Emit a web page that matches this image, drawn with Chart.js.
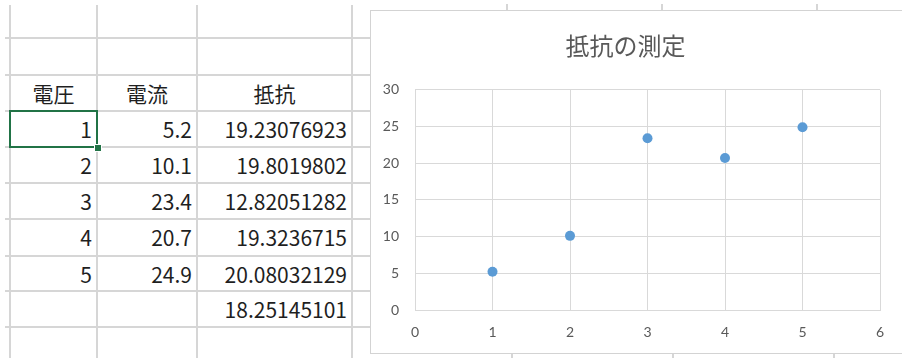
<!DOCTYPE html>
<html lang="ja">
<head>
<meta charset="utf-8">
<title>抵抗の測定</title>
<script src="https://cdn.jsdelivr.net/npm/chart.js@4.4.1/dist/chart.umd.min.js"></script>
<style>
  html, body { margin: 0; padding: 0; background: #fff; }
  body { width: 902px; height: 358px; overflow: hidden; position: relative; }
  .hl, .vl { position: absolute; background: #d6d6d6; }
  .hl { height: 2px; }
  .vl { width: 2px; }
  .cell {
    position: absolute; height: 36px; line-height: 36px;
    font-family: "Noto Sans CJK JP", "Noto Sans", sans-serif;
    font-size: 21px; color: #1f1f1f; white-space: nowrap;
  }
  .sel { position: absolute; left: 9px; top: 110px; width: 85px; height: 34px; border: 2px solid #217346; }
  .handle { position: absolute; left: 94px; top: 144px; width: 6px; height: 6px; background: #217346; border: 1px solid #fff; }
  #chartBox {
    position: absolute; left: 370px; top: 10px; width: 560px; height: 342px;
    border: 1px solid #d3d3d3; background: #fff;
  }
  #chartBox canvas { position: absolute; left: 0; top: 0; }
</style>
</head>
<body>
<div id="sheet"></div>
<div class="sel"></div><div class="handle"></div>
<div id="chartBox"><canvas id="chart" width="516" height="342"></canvas></div>

<script>
// measurement table
const voltage = [1, 2, 3, 4, 5];
const current = [5.2, 10.1, 23.4, 20.7, 24.9];
const resistance = ["19.23076923", "19.8019802", "12.82051282", "19.3236715", "20.08032129"];
const resistanceMean = "18.25145101";
const headers = ["電圧", "電流", "抵抗"];

// chart axes
const xTicks = [0, 1, 2, 3, 4, 5, 6];
const yTicks = [0, 5, 10, 15, 20, 25, 30];
const chartTitle = "抵抗の測定";

// ---- worksheet grid ----
const sheet = document.getElementById("sheet");
const colEdges = [10, 97, 197, 352];
const rowEdges = [38, 75, 111, 147, 183, 219, 256, 291, 327];

function line(cls, style) {
  const d = document.createElement("div");
  d.className = cls;
  Object.assign(d.style, style);
  sheet.appendChild(d);
}
rowEdges.forEach(y => line("hl", { left: "5px", top: (y - 1) + "px", width: "370px" }));
colEdges.forEach(x => line("vl", { left: (x - 1) + "px", top: "5px", height: "360px" }));
// column borders peeking out above and below the chart object
[507, 662, 817].forEach(x => line("vl", { left: (x - 1) + "px", top: "4px", height: "8px" }));
[512, 673, 834].forEach(x => line("vl", { left: (x - 1) + "px", top: "352px", height: "10px" }));

function cell(text, col, row, align) {
  const d = document.createElement("div");
  d.className = "cell";
  d.textContent = text;
  const left = colEdges[col], right = colEdges[col + 1];
  d.style.top = rowEdges[row] + "px";
  if (align === "center") {
    d.style.left = left + "px";
    d.style.width = (right - left) + "px";
    d.style.textAlign = "center";
  } else {
    d.style.right = (902 - right + 5) + "px";
    d.style.textAlign = "right";
  }
  sheet.appendChild(d);
}
headers.forEach((h, i) => cell(h, i, 1, "center"));
voltage.forEach((v, i) => {
  cell(String(v), 0, i + 2, "right");
  cell(String(current[i]), 1, i + 2, "right");
  cell(resistance[i], 2, i + 2, "right");
});
cell(resistanceMean, 2, 7, "right");

// ---- scatter chart ----
const gridColor = "#d9d9d9";
const tickFont = { family: "Lato, 'Open Sans', sans-serif", size: 14 };

new Chart(document.getElementById("chart"), {
  type: "scatter",
  data: {
    datasets: [{
      data: voltage.map((v, i) => ({ x: v, y: current[i] })),
      pointRadius: 5,
      pointHoverRadius: 5,
      pointBorderWidth: 0,
      pointBackgroundColor: "#5B9BD5",
      pointBorderColor: "#5B9BD5"
    }]
  },
  options: {
    responsive: false,
    animation: false,
    events: [],
    layout: { padding: { left: 0, right: 7, top: 0, bottom: 0 } },
    plugins: {
      legend: { display: false },
      tooltip: { enabled: false },
      title: {
        display: true,
        text: chartTitle,
        color: "#595959",
        font: { family: "'Noto Sans CJK JP', sans-serif", size: 24, weight: "normal", lineHeight: 1.2 },
        padding: { top: 20, bottom: 30 }
      }
    },
    scales: {
      x: {
        type: "linear",
        min: xTicks[0],
        max: xTicks[xTicks.length - 1],
        afterBuildTicks: s => { s.ticks = xTicks.map(v => ({ value: v })); },
        afterFit: s => { s.height = 43; s.paddingLeft = 0; s.paddingRight = 0; },
        grid: { color: gridColor, drawTicks: false },
        border: { color: gridColor },
        ticks: { color: "#595959", font: tickFont, padding: 14, maxRotation: 0 }
      },
      y: {
        type: "linear",
        min: yTicks[0],
        max: yTicks[yTicks.length - 1],
        afterBuildTicks: s => { s.ticks = yTicks.map(v => ({ value: v })); },
        afterFit: s => { s.width = 44; },
        grid: { color: gridColor, drawTicks: false },
        border: { color: gridColor },
        ticks: { color: "#595959", font: tickFont, padding: 16 }
      }
    }
  }
});
</script>
</body>
</html>
